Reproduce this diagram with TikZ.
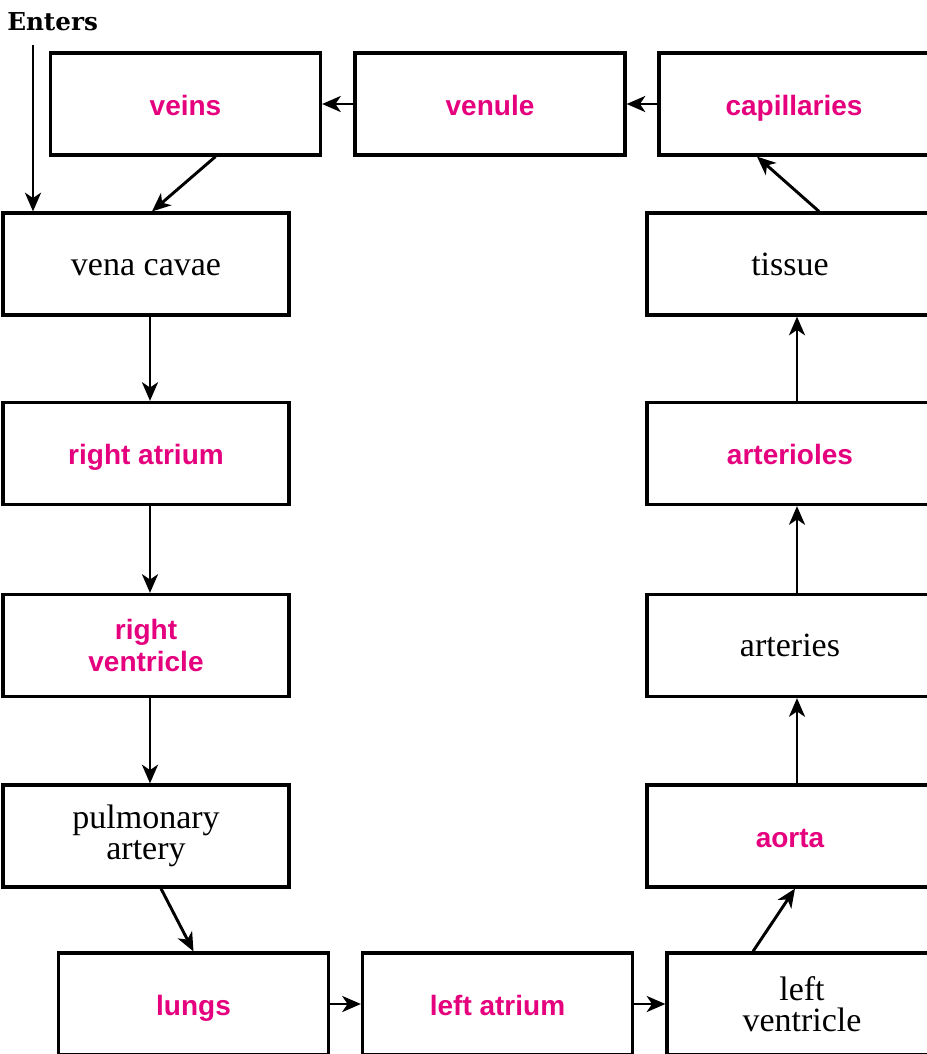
\documentclass[tikz,border=0pt]{standalone}
\usepackage{fontspec}
\setmainfont{Liberation Serif}
\newfontfamily\labelfont{Liberation Sans}
\newfontfamily\titlefont{DejaVu Serif}
\usetikzlibrary{arrows.meta,calc}

\definecolor{rose}{RGB}{229,0,126}

\tikzset{
  boite/.style={draw, line width=2.4pt, minimum height=102*0.75pt,
    align=center, inner sep=0pt, font=\fontsize{25.5}{23.5}\selectfont},
  large/.style={boite, minimum width=286*0.75pt},
  etroite/.style={boite, minimum width=270*0.75pt},
  ligne/.style={text height=19.5pt, text depth=3pt},
  cle/.style={text=rose, font=\labelfont\bfseries\fontsize{21}{24}\selectfont},
  titre/.style={font=\titlefont\bfseries\fontsize{18.5}{22}\selectfont, anchor=west, inner sep=0pt},
  fleche/.style={line width=2.2pt, -{Stealth[length=14pt,width=12pt,inset=4pt]}}
}

\begin{document}
\begin{tikzpicture}[x=0.75pt,y=-0.75pt]

\useasboundingbox (0,0) rectangle (927,1054);

% Haut
\node[titre] (entree) at (7,22) {Enters};
\node[etroite, cle, ligne] (veins) at (185.5,104) {veins};
\node[etroite, cle, ligne] (venule) at (490,104) {venule};
\node[etroite, cle, ligne] (capil) at (794,104) {capillaries};

% Colonne gauche
\node[large, ligne] (cavae) at (146,264) {vena cavae};
\node[large, cle, ligne] (ratrium) at (146,453.5) {right atrium};
\node[large, cle] (rventr) at (146,645.5) {right\\ventricle};
\node[large] (pulm) at (146,836) {pulmonary\\artery};

% Colonne droite
\node[large, ligne] (tissue) at (790,264) {tissue};
\node[large, cle, ligne] (arterioles) at (790,453.5) {arterioles};
\node[large, ligne] (arteries) at (790,645.5) {arteries};
\node[large, cle, ligne] (aorta) at (790,836) {aorta};

% Bas
\node[etroite, cle, ligne] (lungs) at (193.5,1004) {lungs};
\node[etroite, cle, ligne] (latrium) at (497.5,1004) {left atrium};
\node[etroite] (lventr) at (802,1004) {left\\ventricle};

% Flèches
\coordinate (depart) at (33,45);
\draw[fleche] (depart) -- (depart |- cavae.north);
\draw[fleche] (venule) -- (veins);
\draw[fleche] (capil) -- (venule);
\draw[fleche] ($(veins.south)+(30,0)$) -- ($(cavae.north)+(6,0)$);
\draw[fleche] ($(cavae.south)+(4,0)$) -- ($(ratrium.north)+(4,0)$);
\draw[fleche] ($(ratrium.south)+(4,0)$) -- ($(rventr.north)+(4,0)$);
\draw[fleche] ($(rventr.south)+(4,0)$) -- ($(pulm.north)+(4,0)$);
\draw[fleche] ($(pulm.south)+(15,0)$) -- (lungs.north);
\draw[fleche] (lungs) -- (latrium);
\draw[fleche] (latrium) -- (lventr);
\draw[fleche] ($(lventr.north)+(-49,0)$) -- ($(aorta.south)+(5,0)$);
\draw[fleche] ($(aorta.north)+(7,0)$) -- ($(arteries.south)+(7,0)$);
\draw[fleche] ($(arteries.north)+(7,0)$) -- ($(arterioles.south)+(7,0)$);
\draw[fleche] ($(arterioles.north)+(7,0)$) -- ($(tissue.south)+(7,0)$);
\draw[fleche] ($(tissue.north)+(29,0)$) -- ($(capil.south)+(-37,0)$);

\end{tikzpicture}
\end{document}
